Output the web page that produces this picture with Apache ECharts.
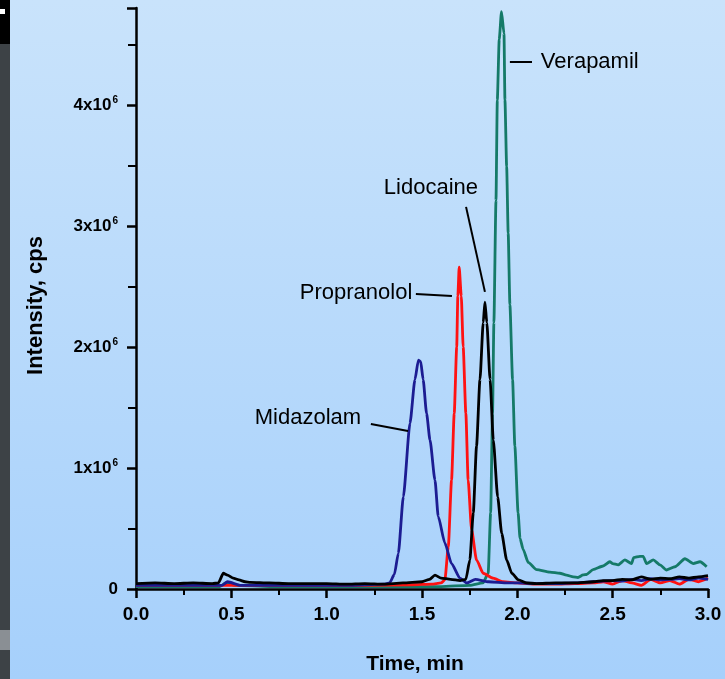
<!DOCTYPE html>
<html>
<head>
<meta charset="utf-8">
<script src="https://cdn.jsdelivr.net/npm/echarts@6/dist/echarts.min.js"></script>
<style>
  html, body { margin: 0; padding: 0; background: #ffffff; }
  #chart { width: 725px; height: 679px; }
</style>
</head>
<body>
<div id="chart"></div>
<script>
// Extracted-ion chromatograms: time (min) and intensity (x10^6 cps)
const xTicks = [0, 0.5, 1.0, 1.5, 2.0, 2.5, 3.0];
const yTicks = [0, 1, 2, 3, 4];

const verapamilT = [0, 0.2, 0.44, 0.47, 0.52, 0.7, 1.0, 1.3, 1.6, 1.75, 1.82, 1.847, 1.86, 1.87, 1.877, 1.888, 1.895, 1.905, 1.917, 1.93, 1.935, 1.944, 1.952, 1.961, 1.975, 1.987, 2.004, 2.014, 2.03, 2.057, 2.101, 2.171, 2.223, 2.258, 2.293, 2.318, 2.345, 2.363, 2.397, 2.45, 2.485, 2.5, 2.529, 2.564, 2.599, 2.61, 2.643, 2.66, 2.678, 2.713, 2.748, 2.783, 2.827, 2.879, 2.923, 2.958, 2.993];
const verapamilV = [0.02, 0.02, 0.02, 0.05, 0.03, 0.02, 0.02, 0.02, 0.02, 0.03, 0.05, 0.13, 0.63, 1.45, 2.2, 3.21, 4.04, 4.54, 4.77, 4.59, 4.04, 3.49, 2.94, 2.35, 1.73, 1.18, 0.63, 0.42, 0.33, 0.22, 0.16, 0.14, 0.13, 0.115, 0.1, 0.095, 0.116, 0.12, 0.16, 0.19, 0.225, 0.21, 0.2, 0.24, 0.21, 0.26, 0.27, 0.27, 0.21, 0.24, 0.2, 0.157, 0.184, 0.25, 0.21, 0.225, 0.184];

const propranololT = [0, 0.3, 0.6, 0.9, 1.2, 1.45, 1.55, 1.6, 1.62, 1.638, 1.655, 1.669, 1.682, 1.688, 1.695, 1.706, 1.716, 1.73, 1.742, 1.76, 1.786, 1.821, 1.873, 1.925, 2.0, 2.1, 2.2, 2.3, 2.4, 2.45, 2.5, 2.55, 2.6, 2.65, 2.7, 2.75, 2.8, 2.85, 2.9, 2.95, 3.0];
const propranololV = [0.03, 0.03, 0.03, 0.03, 0.03, 0.035, 0.04, 0.05, 0.075, 0.35, 0.9, 1.45, 2.0, 2.42, 2.66, 2.42, 2.0, 1.45, 0.9, 0.49, 0.24, 0.13, 0.09, 0.06, 0.05, 0.04, 0.04, 0.045, 0.05, 0.06, 0.04, 0.07, 0.05, 0.03, 0.08, 0.05, 0.07, 0.04, 0.08, 0.06, 0.09];

const midazolamT = [0, 0.3, 0.45, 0.48, 0.55, 0.8, 1.1, 1.3, 1.33, 1.355, 1.376, 1.402, 1.437, 1.463, 1.481, 1.493, 1.506, 1.524, 1.542, 1.568, 1.585, 1.62, 1.655, 1.699, 1.734, 1.78, 1.85, 1.95, 2.0, 2.1, 2.2, 2.3, 2.4, 2.5, 2.55, 2.6, 2.65, 2.7, 2.75, 2.8, 2.85, 2.9, 2.95, 3.0];
const midazolamV = [0.03, 0.03, 0.03, 0.06, 0.03, 0.03, 0.03, 0.04, 0.05, 0.12, 0.295, 0.76, 1.37, 1.73, 1.89, 1.88, 1.73, 1.45, 1.23, 0.9, 0.6, 0.38, 0.21, 0.09, 0.05, 0.08, 0.06, 0.05, 0.05, 0.045, 0.045, 0.05, 0.06, 0.07, 0.065, 0.08, 0.07, 0.085, 0.075, 0.08, 0.085, 0.075, 0.09, 0.08];

const lidocaineT = [0, 0.1, 0.2, 0.3, 0.4, 0.432, 0.458, 0.48, 0.51, 0.54, 0.572, 0.6, 0.7, 0.8, 0.9, 1.0, 1.1, 1.2, 1.3, 1.4, 1.5, 1.54, 1.568, 1.6, 1.65, 1.7, 1.73, 1.751, 1.769, 1.786, 1.804, 1.821, 1.83, 1.84, 1.857, 1.874, 1.897, 1.918, 1.944, 1.971, 2.006, 2.05, 2.1, 2.2, 2.3, 2.4, 2.45, 2.5, 2.55, 2.6, 2.65, 2.7, 2.75, 2.8, 2.85, 2.9, 2.95, 3.0];
const lidocaineV = [0.045, 0.05, 0.045, 0.05, 0.045, 0.05, 0.13, 0.115, 0.09, 0.075, 0.06, 0.055, 0.05, 0.045, 0.045, 0.045, 0.04, 0.045, 0.04, 0.05, 0.06, 0.08, 0.115, 0.09, 0.08, 0.07, 0.08, 0.24, 0.63, 1.18, 1.73, 2.2, 2.37, 2.2, 1.73, 1.23, 0.76, 0.46, 0.24, 0.13, 0.075, 0.05, 0.045, 0.05, 0.05, 0.06, 0.07, 0.07, 0.08, 0.075, 0.1, 0.08, 0.09, 0.085, 0.1, 0.09, 0.1, 0.11];

const compoundNames = ['Verapamil', 'Propranolol', 'Midazolam', 'Lidocaine'];
const traceColors = ['#157a68', '#ff1212', '#1c1c92', '#000000'];

function toPairs(t, v) { return t.map((x, i) => [x, v[i]]); }

const labelFont = "'Liberation Sans', Arial, sans-serif";

// Callout: leader line between two data points plus a text label anchored in data space
function callout(name, line, textAt) {
  return {
    markLine: {
      silent: true,
      symbol: ['none', 'none'],
      lineStyle: { color: '#000', width: 2, type: 'solid' },
      label: { show: false },
      animation: false,
      data: [[{ coord: line[0] }, { coord: line[1] }]]
    },
    markPoint: {
      silent: true,
      symbol: 'circle',
      symbolSize: 1,
      itemStyle: { color: 'rgba(0,0,0,0)' },
      animation: false,
      label: {
        show: true,
        position: 'inside',
        formatter: name,
        color: '#000',
        fontFamily: labelFont,
        fontSize: 22
      },
      data: [{ coord: textAt }]
    }
  };
}

const traces = [
  { t: verapamilT, v: verapamilV, call: callout(compoundNames[0], [[1.961, 4.355], [2.077, 4.355]], [2.38, 4.355]) },
  { t: propranololT, v: propranololV, call: callout(compoundNames[1], [[1.468, 2.438], [1.657, 2.421]], [1.154, 2.446]) },
  { t: midazolamT, v: midazolamV, call: callout(compoundNames[2], [[1.232, 1.364], [1.427, 1.306]], [0.902, 1.413]) },
  { t: lidocaineT, v: lidocaineV, call: callout(compoundNames[3], [[1.731, 3.157], [1.830, 2.455]], [1.547, 3.314]) }
];

const chart = echarts.init(document.getElementById('chart'), null, { renderer: 'canvas' });

chart.setOption({
  animation: false,
  backgroundColor: {
    type: 'linear', x: 0, y: 0, x2: 0, y2: 1,
    colorStops: [
      { offset: 0, color: '#c9e3fb' },
      { offset: 1, color: '#a6d0fb' }
    ]
  },
  graphic: [
    { type: 'rect', left: 0, top: 0, z: 100, shape: { width: 10, height: 679 }, style: { fill: '#3d4246' } },
    { type: 'rect', left: 0, top: 0, z: 101, shape: { width: 10, height: 44 }, style: { fill: '#000000' } },
    { type: 'rect', left: 0, top: 9, z: 102, shape: { width: 5, height: 5 }, style: { fill: '#ffffff' } },
    { type: 'rect', left: 0, top: 630, z: 101, shape: { width: 10, height: 20 }, style: { fill: '#8a8f94' } }
  ],
  grid: { left: 136, right: 17, top: 8, bottom: 90, containLabel: false, outerBoundsMode: 'none' },
  xAxis: {
    type: 'value',
    min: xTicks[0],
    max: xTicks[xTicks.length - 1],
    interval: 0.5,
    name: 'Time, min',
    nameLocation: 'middle',
    nameGap: 65,
    nameTextStyle: { fontFamily: labelFont, fontWeight: 'bold', fontSize: 21, color: '#000', padding: [0, 14, 0, 0] },
    axisLine: { show: true, onZero: false, lineStyle: { color: '#000', width: 2.5 } },
    axisTick: { show: true, length: 9, lineStyle: { color: '#000', width: 2.5 } },
    minorTick: { show: true, splitNumber: 2, length: 6, lineStyle: { color: '#000', width: 2 } },
    splitLine: { show: false },
    minorSplitLine: { show: false },
    axisLabel: {
      margin: 16,
      fontFamily: labelFont, fontWeight: 'bold', fontSize: 19, color: '#000',
      formatter: v => v.toFixed(1),
      showMaxLabel: true, hideOverlap: false
    }
  },
  yAxis: {
    type: 'value',
    min: yTicks[0],
    max: 4.8,
    interval: 1,
    name: 'Intensity, cps',
    nameLocation: 'middle',
    nameGap: 89,
    nameRotate: 90,
    nameTextStyle: { fontFamily: labelFont, fontWeight: 'bold', fontSize: 22, color: '#000', padding: [0, 14, 0, 0] },
    axisLine: { show: true, lineStyle: { color: '#000', width: 2.5 } },
    axisTick: { show: true, length: 9, lineStyle: { color: '#000', width: 2.5 } },
    minorTick: { show: true, splitNumber: 2, length: 8, lineStyle: { color: '#000', width: 2 } },
    splitLine: { show: false },
    minorSplitLine: { show: false },
    axisLabel: {
      margin: 18,
      showMaxLabel: false,
      color: '#000',
      formatter: v => (v === 0 ? '{b|0}' : '{b|' + v + 'x10}{s|6}'),
      rich: {
        b: { fontFamily: labelFont, fontWeight: 'bold', fontSize: 17, color: '#000', lineHeight: 19 },
        s: { fontFamily: labelFont, fontWeight: 'bold', fontSize: 10, color: '#000', verticalAlign: 'top', lineHeight: 19, padding: [0, 0, 8, 1] }
      }
    }
  },
  series: traces.map((tr, i) => Object.assign({
    name: compoundNames[i],
    type: 'line',
    data: toPairs(tr.t, tr.v),
    showSymbol: false,
    smooth: 0.2,
    smoothMonotone: 'x',
    clip: true,
    z: 2 + i,
    lineStyle: { color: traceColors[i], width: 2.8 },
    itemStyle: { color: traceColors[i] }
  }, tr.call))
});
</script>
</body>
</html>
